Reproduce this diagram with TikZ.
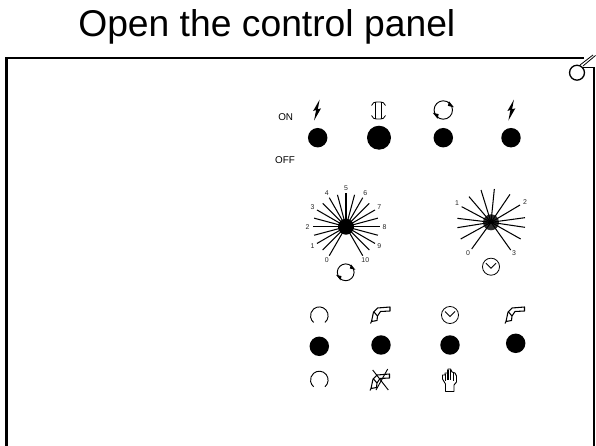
\documentclass[tikz,border=0pt]{standalone}
\usepackage{fontspec}
\setmainfont{Liberation Sans}
\tikzset{
  x=0.75pt,y=-0.75pt,
  frameline/.style={line width=2.2pt,black},
  knob/.style={circle,fill=black,inner sep=0pt,minimum size=14.6pt},
  bigknob/.style={circle,fill=black,inner sep=0pt,minimum size=18pt},
  hub/.style={circle,fill=black,inner sep=0pt,minimum size=12pt},
  dlabel/.style={font=\fontsize{5.2}{6}\selectfont,text=black!85,inner sep=0pt},
  onoff/.style={font=\fontsize{7.4}{9}\selectfont,inner sep=0pt},
  ray/.style={line width=0.78pt,line cap=butt},
  icon/.style={line width=0.6pt,black},
}
\newcommand{\boltico}[2]{\fill[shift={(#1,#2)}] (2.9,-10.3) -- (-3.6,1) -- (-0.6,0) -- (-2.6,10.5) -- (4.3,-1.6) -- (1.1,-0.8) -- cycle;}
\newcommand{\rotico}[3]{\begin{scope}[shift={(#1,#2)}]
  \draw[icon,line width=0.7pt] (0,0) circle[radius=#3*0.75pt];
  \fill (0.62*#3,-0.95*#3) -- (1.15*#3,-0.3*#3) -- (0.5*#3,-0.45*#3) -- cycle;
  \fill (-0.62*#3,0.95*#3) -- (-1.15*#3,0.3*#3) -- (-0.5*#3,0.45*#3) -- cycle;
\end{scope}}
\newcommand{\clockico}[2]{\begin{scope}[shift={(#1,#2)}]
  \draw[icon] (0,0) circle[radius=6.4pt];
  \draw[icon] (-5,-3.5) -- (0,1.5) -- (5,-3.5);
\end{scope}}
\newcommand{\arcico}[2]{\draw[icon,line width=0.7pt] (#1,#2) ++(-50:6.6pt) arc[start angle=-50,end angle=230,radius=6.6pt];}
\newcommand{\gunico}[2]{\begin{scope}[shift={(#1,#2)}]
  \draw[icon,line width=0.8pt,line join=round] (9.5,-9) -- (-3,-8) -- (-7,-4) -- (-9,5.5) -- (-3.5,4.5) -- (-3,0) -- (0,-4.5) -- (9.5,-5) -- cycle;
  \draw[icon,line width=0.8pt] (-6.5,-4) -- (-3,0) (-9,5.5) -- (-10,7.5);
\end{scope}}
\begin{document}
\begin{tikzpicture}
\useasboundingbox (0,0) rectangle (596,446);
\fill[white] (0,0) rectangle (596,446);
% title
\node[anchor=base west,inner sep=0pt,font=\fontsize{27.95}{30}\selectfont] (title) at (78,36.5) {Open the control panel};
% frame
\coordinate (fbl) at (6.5,446);
\coordinate (ftl) at (6.5,58);
\coordinate (ftr) at (584,58);
\coordinate (frt) at (594,67);
\coordinate (frb) at (594,446);
\draw[frameline] (fbl) -- (ftl) -- (ftr);
\draw[frameline] (frt) -- (frb);
\draw[line width=0.7pt] (583,67.5) -- (595,67.5);
\draw[line width=1pt] (577,72.7) circle[radius=5.6pt];
\draw[line width=0.6pt] (580,65) -- (593,55) (583,66) -- (595.5,55.5);
% top row
\node[onoff] (on) at (285.7,117) {ON};
\node[onoff] (off) at (285,160) {OFF};
\node[knob] (b1) at (317.7,137.7) {};
\node[bigknob] (b2) at (379,137.7) {};
\node[knob] (b3) at (443.3,137.7) {};
\node[knob] (b4) at (511,137.7) {};
\boltico{316.7}{110}
\boltico{511}{110}
\begin{scope}[shift={(378.5,110.5)}]
 \draw[icon] (-7,-5) .. controls (-6.5,-8) and (-4,-8.5) .. (0,-8.5) .. controls (4,-8.5) and (6.5,-8) .. (7,-5);
 \draw[icon] (-7,5) .. controls (-6.5,8) and (-4,8.5) .. (0,8.5) .. controls (4,8.5) and (6.5,8) .. (7,5);
 \draw[line width=0.8pt] (-3,-8.5) -- (-3,8.5) (3,-8.5) -- (3,8.5);
\end{scope}
\rotico{443.3}{110}{9.2}
% dial 1
\node[hub] (d1) at (346,226.7) {};
\foreach \a in {240,210,...,-60}{\draw[ray] (d1.center) -- ++({33.5*cos(\a)},{-33.5*sin(\a)});}
\foreach \a in {225,195,...,-45}{\draw[ray] (d1.center) -- ++({33*cos(\a+0)},{-33*sin(\a+0)});}
\foreach \t/\a in {0/240,1/210,2/180,3/150,4/120,5/90,6/60,7/30,8/0,9/-30,10/-60}{
  \node[dlabel] (dl\t) at ({346+38.5*cos(\a)},{226.7-38.5*sin(\a)}) {\t};}
\rotico{345.7}{272.3}{8.4}
% dial 2
\node[hub,fill=black!82] (d2) at (491,222.3) {};
\foreach \x/\y in {537/65,573/45,613/42,660/58,690/90,705/128,705/157,692/192,662/225,545/222,512/192,502/158,502/130,515/95}{
  \coordinate (e) at ({290+\x/3},{175+\y/3});
  \draw[ray] (d2.center) -- (e);}
\node[dlabel] (m1) at (457,203.5) {1};
\node[dlabel] (m2) at (525,202.5) {2};
\node[dlabel] (m0) at (468,253.5) {0};
\node[dlabel] (m3) at (514,253.5) {3};
\clockico{491}{266.7}
% lower rows
\arcico{319.3}{315.7}
\gunico{380.5}{316}
\clockico{450}{315}
\gunico{515}{316}
\node[knob] (c1) at (319.3,346.3) {};
\node[knob] (c2) at (381,345) {};
\node[knob] (c3) at (450,345) {};
\node[knob] (c4) at (515.7,343.3) {};
\arcico{319.3}{380}
\gunico{380}{383}
\draw[icon,line width=0.7pt] (372.7,370) -- (388.3,390) (387.7,369) -- (376,390);
\begin{scope}[shift={(450,380)}]
 \draw[icon,line width=0.7pt,line join=round] (-4.5,11.5) -- (-4.5,4) -- (-7.5,-1) -- (-7.5,-5) -- (-5,-5) -- (-5,-7) -- (-2.5,-7) -- (-2,-11) -- (0.5,-11) -- (2,-8) -- (5,-7) -- (6.5,-4) -- (6.5,2) -- (4,5) -- (4,11.5) -- cycle;
 \draw[icon,line width=0.8pt] (-4.7,-6) -- (-4.7,1) (-2,-10) -- (-2,0) (0.7,-10) -- (0.7,0) (3.5,-7) -- (3.5,1);
\end{scope}
\end{tikzpicture}
\end{document}
